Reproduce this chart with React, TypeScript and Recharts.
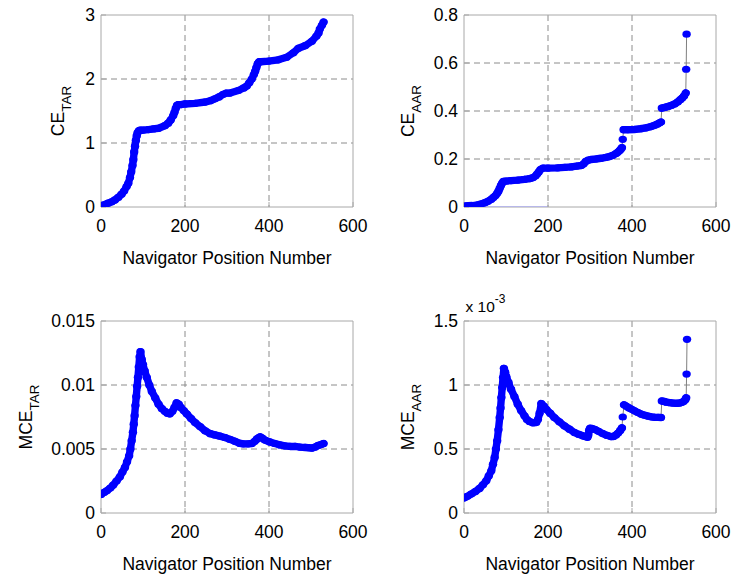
import React from 'react';
import { LineChart, Line, XAxis, YAxis, CartesianGrid, ReferenceArea, Label } from 'recharts';

const FONT = '"Liberation Sans", Arial, Helvetica, sans-serif';
const BLUE = '#0000ff';
const GRID = '#8c8c8c';
const BOX = '#a8a8a8';
const JOIN = '#7f7f7f';

// shared x axis
const xTicks = [0, 200, 400, 600];
const xLabelText = 'Navigator Position Number';

// ---- CE_TAR ----
const ceTarX = [0, 8, 17, 25, 33, 41, 49, 55, 61, 65, 69, 72, 75, 77, 79, 81, 83, 85, 87, 90, 93, 100, 113, 125, 137, 152, 160, 166, 172, 175, 178, 181, 184, 190, 200, 224, 248, 260, 271, 281, 291, 299, 307, 327, 340, 347, 353, 359, 364, 367, 370, 373, 377, 381, 399, 422, 442, 458, 470, 486, 502, 513, 518, 521, 526, 530];
const ceTarY = [0.02, 0.035, 0.06, 0.08, 0.11, 0.15, 0.2, 0.25, 0.32, 0.37, 0.46, 0.55, 0.65, 0.74, 0.86, 0.95, 1.04, 1.11, 1.16, 1.19, 1.2, 1.2, 1.21, 1.22, 1.23, 1.27, 1.31, 1.36, 1.43, 1.48, 1.54, 1.59, 1.6, 1.6, 1.61, 1.62, 1.64, 1.66, 1.69, 1.72, 1.76, 1.78, 1.78, 1.82, 1.86, 1.89, 1.94, 2.0, 2.07, 2.12, 2.18, 2.24, 2.27, 2.27, 2.28, 2.3, 2.34, 2.41, 2.48, 2.52, 2.59, 2.67, 2.72, 2.78, 2.84, 2.89];
const ceTarTicks = [0, 1, 2, 3];

// ---- CE_AAR ----
const ceAarSeg1X = [0, 10, 20, 30, 40, 50, 57, 65, 70, 75, 79, 82, 85, 88, 91, 94, 100, 112, 128, 144, 156, 164, 170, 174, 178, 182, 188, 200, 223, 240, 255, 268, 279, 285, 290, 296, 302, 314, 326, 338, 346, 354, 362, 366, 370, 373, 376];
const ceAarSeg1Y = [0.004, 0.005, 0.006, 0.008, 0.012, 0.018, 0.024, 0.032, 0.04, 0.048, 0.057, 0.066, 0.078, 0.09, 0.1, 0.107, 0.108, 0.11, 0.112, 0.115, 0.118, 0.122, 0.129, 0.137, 0.146, 0.156, 0.162, 0.162, 0.163, 0.165, 0.167, 0.17, 0.173, 0.18, 0.19, 0.195, 0.198, 0.2, 0.203, 0.207, 0.21, 0.215, 0.223, 0.228, 0.234, 0.24, 0.247];
const ceAarDotX = [378];
const ceAarDotY = [0.282];
const ceAarSeg2X = [380, 390, 405, 420, 433, 445, 453, 460, 465, 469];
const ceAarSeg2Y = [0.322, 0.322, 0.323, 0.326, 0.33, 0.335, 0.34, 0.345, 0.35, 0.354];
const ceAarSeg3X = [471, 478, 486, 494, 502, 509, 515, 520, 524, 528];
const ceAarSeg3Y = [0.412, 0.415, 0.419, 0.424, 0.43, 0.438, 0.447, 0.455, 0.463, 0.475];
const ceAarTopX = [529, 530];
const ceAarTopY = [0.574, 0.72];
const ceAarBaseX = [0, 200];
const ceAarBaseY = [0, 0];
const ceAarTicks = [0, 0.2, 0.4, 0.6, 0.8];

// ---- MCE_TAR ----
const mceTarX = [0, 7, 14, 22, 29, 37, 45, 51, 57, 62, 67, 70, 73, 76, 78, 80, 82, 84, 86, 88, 90, 92, 94, 97, 100, 104, 109, 115, 121, 129, 137, 145, 152, 158, 164, 170, 175, 180, 185, 190, 197, 204, 214, 224, 236, 248, 260, 271, 283, 295, 307, 319, 330, 339, 350, 359, 366, 371, 375, 379, 384, 390, 402, 414, 426, 438, 450, 462, 474, 486, 494, 502, 510, 517, 524, 530];
const mceTarY = [0.00145, 0.0016, 0.00174, 0.00195, 0.00218, 0.0025, 0.00283, 0.0032, 0.00356, 0.004, 0.00447, 0.005, 0.00564, 0.0063, 0.00694, 0.0076, 0.0084, 0.0091, 0.0099, 0.0106, 0.0114, 0.0122, 0.0126, 0.012, 0.0116, 0.0111, 0.0106, 0.01, 0.0095, 0.009, 0.0085, 0.00815, 0.00795, 0.0078, 0.00775, 0.00795, 0.00825, 0.0086, 0.0085, 0.00825, 0.008, 0.00775, 0.0074, 0.00707, 0.00675, 0.00642, 0.0062, 0.0061, 0.006, 0.0059, 0.00575, 0.0056, 0.00545, 0.0054, 0.0054, 0.00543, 0.0056, 0.00577, 0.00588, 0.00595, 0.00585, 0.0057, 0.00555, 0.00543, 0.00532, 0.00525, 0.0052, 0.0052, 0.00515, 0.00512, 0.0051, 0.00507, 0.00515, 0.00528, 0.00535, 0.00543];
const mceTarTicks = [0, 0.005, 0.01, 0.015];

// ---- MCE_AAR (values in units of 1e-3) ----
const mceAarSeg1X = [0, 8, 17, 27, 37, 45, 53, 59, 65, 69, 73, 76, 79, 82, 85, 87, 89, 91, 93, 95, 98, 101, 106, 112, 120, 128, 136, 144, 150, 156, 164, 172, 176, 180, 184, 190, 196, 205, 215, 227, 239, 251, 263, 273, 283, 290, 294, 296, 298, 300, 305, 312, 320, 330, 340, 350, 356, 362, 367, 372, 376];
const mceAarSeg1Y = [0.117, 0.13, 0.148, 0.168, 0.192, 0.22, 0.252, 0.29, 0.33, 0.38, 0.434, 0.5, 0.564, 0.65, 0.746, 0.82, 0.902, 0.98, 1.058, 1.13, 1.1, 1.065, 1.02, 0.967, 0.91, 0.85, 0.8, 0.759, 0.73, 0.715, 0.705, 0.707, 0.73, 0.78, 0.855, 0.835, 0.81, 0.78, 0.746, 0.713, 0.681, 0.655, 0.629, 0.615, 0.603, 0.597, 0.592, 0.61, 0.645, 0.662, 0.66, 0.652, 0.638, 0.621, 0.607, 0.597, 0.598, 0.61, 0.625, 0.645, 0.665];
const mceAarDotX = [378];
const mceAarDotY = [0.75];
const mceAarSeg2X = [381, 386, 392, 398, 406, 414, 422, 430, 438, 446, 454, 462, 469];
const mceAarSeg2Y = [0.845, 0.835, 0.823, 0.812, 0.798, 0.785, 0.772, 0.764, 0.757, 0.751, 0.748, 0.747, 0.746];
const mceAarSeg3X = [471, 476, 482, 490, 498, 506, 512, 518, 523, 527, 529];
const mceAarSeg3Y = [0.875, 0.872, 0.866, 0.862, 0.858, 0.857, 0.858, 0.863, 0.872, 0.885, 0.9];
const mceAarTopX = [530, 531];
const mceAarTopY = [1.085, 1.357];
const mceAarTicks = [0, 0.5, 1, 1.5];

type P = { x: number; y: number };
const pts = (xs: number[], ys: number[]): P[] => xs.map((x, i) => ({ x, y: ys[i] }));

const W = 252;
const H = 192;
const ML = 100;
const MT = 40;
const MR = 30;
const MB = 66;
const FS = 17.5;

interface PanelProps {
  left: number;
  top: number;
  yMax: number;
  yTicks: number[];
  main: string;
  sub: string;
  labelX: number;
  bands: P[][];
  all: P[];
  baseline?: P[];
  multiplier?: boolean;
}

function Panel(p: PanelProps) {
  const renderDot = (d: any) => {
    const k = `dot-${d.index}`;
    if (d.cx == null || d.cy == null) return <g key={k} />;
    return <ellipse key={k} cx={d.cx} cy={d.cy} rx={4.2} ry={3.6} fill={BLUE} />;
  };
  const cx = ML + p.labelX;
  const cy = MT + H / 2;
  const yLabel = () => (
    <g>
      <text
        transform={`rotate(-90 ${cx} ${cy})`}
        x={cx}
        y={cy}
        textAnchor="middle"
        fontFamily={FONT}
        fontSize={FS}
        fill="#000"
      >
        {p.main}
        <tspan dy={7} fontSize={13.5}>{p.sub}</tspan>
      </text>
      {p.multiplier ? (
        <text x={ML + 1.5} y={MT - 9} fontFamily={FONT} fontSize={15.5} fill="#000">
          x 10
          <tspan dy={-9} fontSize={12}>-3</tspan>
        </text>
      ) : null}
    </g>
  );
  const xLabel = () => (
    <text x={ML + W / 2} y={MT + H + 57.3} textAnchor="middle" fontFamily={FONT} fontSize={FS} fill="#000">
      {xLabelText}
    </text>
  );
  const inner = p.yTicks.filter((t) => t > 0 && t < p.yMax);
  const tickStyle = { fontSize: FS, fill: '#000', fontFamily: FONT };
  return (
    <div style={{ position: 'absolute', left: p.left - ML, top: p.top - MT }}>
      <LineChart width={ML + W + MR} height={MT + H + MB} margin={{ top: MT, right: MR, bottom: 0, left: 0 }}>
        <CartesianGrid
          horizontalValues={inner}
          verticalValues={[200, 400]}
          stroke={GRID}
          strokeDasharray="6 4"
          fill="none"
        />
        <XAxis
          type="number"
          dataKey="x"
          domain={[0, 600]}
          ticks={xTicks}
          interval={0}
          height={MB}
          allowDataOverflow
          axisLine={false}
          tickSize={-5}
          tickMargin={18}
          tickLine={{ stroke: BOX }}
          tick={tickStyle}
        >
          <Label content={xLabel} />
        </XAxis>
        <XAxis
          xAxisId="top"
          orientation="top"
          type="number"
          dataKey="x"
          domain={[0, 600]}
          ticks={xTicks}
          interval={0}
          height={0}
          allowDataOverflow
          axisLine={false}
          tickSize={-5}
          tickLine={{ stroke: BOX }}
          tick={false}
        />
        <YAxis
          type="number"
          dataKey="y"
          domain={[0, p.yMax]}
          ticks={p.yTicks}
          interval={0}
          width={ML}
          allowDataOverflow
          axisLine={false}
          tickSize={-5}
          tickMargin={11}
          tickLine={{ stroke: BOX }}
          tick={tickStyle}
        >
          <Label content={yLabel} />
        </YAxis>
        <YAxis
          yAxisId="right"
          orientation="right"
          type="number"
          dataKey="y"
          domain={[0, p.yMax]}
          ticks={p.yTicks}
          interval={0}
          width={0}
          allowDataOverflow
          axisLine={false}
          tickSize={-5}
          tickLine={{ stroke: BOX }}
          tick={false}
        />
        <ReferenceArea x1={0} x2={600} y1={0} y2={p.yMax} fill="none" fillOpacity={0} stroke={BOX} strokeWidth={1} />
        {p.baseline ? (
          <Line
            data={p.baseline}
            dataKey="y"
            type="linear"
            stroke="#9a9aff"
            strokeWidth={1}
            dot={false}
            activeDot={false}
            isAnimationActive={false}
          />
        ) : null}
        <Line
          data={p.all}
          dataKey="y"
          type="linear"
          stroke={JOIN}
          strokeWidth={1}
          dot={renderDot}
          activeDot={false}
          isAnimationActive={false}
        />
        {p.bands.map((b, i) => (
          <Line
            key={`band-${i}`}
            data={b}
            dataKey="y"
            type="linear"
            stroke={BLUE}
            strokeWidth={7.4}
            strokeLinecap="round"
            strokeLinejoin="round"
            dot={false}
            activeDot={false}
            isAnimationActive={false}
          />
        ))}
      </LineChart>
    </div>
  );
}

const ceTar = pts(ceTarX, ceTarY);
const ceAarBands = [pts(ceAarSeg1X, ceAarSeg1Y), pts(ceAarSeg2X, ceAarSeg2Y), pts(ceAarSeg3X, ceAarSeg3Y)];
const ceAarAll = [
  ...pts(ceAarSeg1X, ceAarSeg1Y),
  ...pts(ceAarDotX, ceAarDotY),
  ...pts(ceAarSeg2X, ceAarSeg2Y),
  ...pts(ceAarSeg3X, ceAarSeg3Y),
  ...pts(ceAarTopX, ceAarTopY),
];
const mceTar = pts(mceTarX, mceTarY);
const mceAarBands = [pts(mceAarSeg1X, mceAarSeg1Y), pts(mceAarSeg2X, mceAarSeg2Y), pts(mceAarSeg3X, mceAarSeg3Y)];
const mceAarAll = [
  ...pts(mceAarSeg1X, mceAarSeg1Y),
  ...pts(mceAarDotX, mceAarDotY),
  ...pts(mceAarSeg2X, mceAarSeg2Y),
  ...pts(mceAarSeg3X, mceAarSeg3Y),
  ...pts(mceAarTopX, mceAarTopY),
];

export default function App() {
  return (
    <div style={{ position: 'absolute', left: 0, top: 0, width: 734, height: 578, background: '#fff', overflow: 'hidden' }}>
      <Panel left={101} top={15} yMax={3} yTicks={ceTarTicks} main="CE" sub="TAR" labelX={-36.7} bands={[ceTar]} all={ceTar} />
      <Panel
        left={464}
        top={15}
        yMax={0.8}
        yTicks={ceAarTicks}
        main="CE"
        sub="AAR"
        labelX={-50}
        bands={ceAarBands}
        all={ceAarAll}
        baseline={pts(ceAarBaseX, ceAarBaseY)}
      />
      <Panel left={101} top={321} yMax={0.015} yTicks={mceTarTicks} main="MCE" sub="TAR" labelX={-69.5} bands={[mceTar]} all={mceTar} />
      <Panel
        left={464}
        top={321}
        yMax={1.5}
        yTicks={mceAarTicks}
        main="MCE"
        sub="AAR"
        labelX={-50}
        bands={mceAarBands}
        all={mceAarAll}
        multiplier
      />
    </div>
  );
}
